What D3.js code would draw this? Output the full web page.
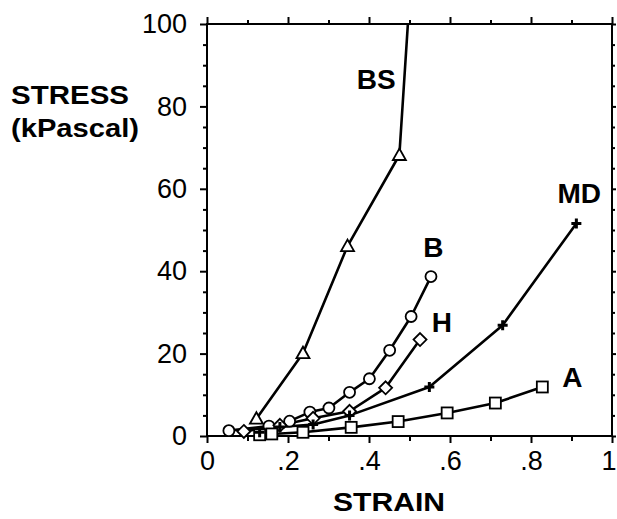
<!DOCTYPE html>
<html>
<head>
<meta charset="utf-8">
<script src="https://cdn.jsdelivr.net/npm/d3@7"></script>
<style>
  html, body { margin: 0; padding: 0; background: #fff; overflow: hidden; }
  svg { display: block; }
  text { font-family: "Liberation Sans", Arial, Helvetica, sans-serif; fill: #000; }
</style>
</head>
<body>
<svg id="chart" width="617" height="519"></svg>
<script>
// ---- Data (strain, stress in kPascal) ----
const seriesNames = ["BS", "B", "H", "MD", "A"];
const seriesBS = [[0.122, 4.2], [0.237, 20.1], [0.347, 46.1], [0.475, 68.2], [0.496, 100]];
const seriesB  = [[0.054, 1.3], [0.153, 2.4], [0.204, 3.6], [0.254, 5.8], [0.301, 6.8], [0.352, 10.6], [0.401, 13.9], [0.451, 20.8], [0.504, 29.0], [0.553, 38.7]];
const seriesH  = [[0.091, 1.1], [0.18, 2.6], [0.262, 4.3], [0.352, 6.0], [0.441, 11.7], [0.526, 23.4]];
const seriesMD = [[0.13, 0.9], [0.18, 2.2], [0.262, 2.8], [0.352, 5.0], [0.549, 11.9], [0.730, 26.9], [0.912, 51.6]];
const seriesA  = [[0.13, 0.3], [0.16, 0.5], [0.237, 0.9], [0.356, 2.1], [0.472, 3.5], [0.593, 5.6], [0.712, 8.0], [0.828, 11.9]];
const markerBS = [true, true, true, true, false];

const xMajorTicks = [0, 0.2, 0.4, 0.6, 0.8, 1];
const xTickLabels = ["0", ".2", ".4", ".6", ".8", "1"];
const xMinorTicks = [0.1, 0.3, 0.5, 0.7, 0.9];
const yMajorTicks = [0, 20, 40, 60, 80, 100];
const yTickLabels = ["0", "20", "40", "60", "80", "100"];
const yMinorTicks = [5, 10, 15, 25, 30, 35, 45, 50, 55, 65, 70, 75, 85, 90, 95];

const labelBS = { text: "BS", x: 0.418, y: 84.2 };
const labelB  = { text: "B",  x: 0.559, y: 43.5 };
const labelH  = { text: "H",  x: 0.580, y: 25.3 };
const labelMD = { text: "MD", x: 0.919, y: 56.5 };
const labelA  = { text: "A",  x: 0.902, y: 11.9 };

// ---- Layout ----
const svg = d3.select("#chart");
const x = d3.scaleLinear().domain([0, 1]).range([207, 612]);
const y = d3.scaleLinear().domain([0, 100]).range([436, 24]);

// Frame
svg.append("rect")
  .attr("x", x(0)).attr("y", y(100))
  .attr("width", x(1) - x(0)).attr("height", y(0) - y(100))
  .attr("fill", "none").attr("stroke", "#000").attr("stroke-width", 2);

function styleAxis(g) {
  g.select(".domain").remove();
  g.selectAll(".tick line").attr("stroke", "#000").attr("stroke-width", 2);
}

// Bottom axis
svg.append("g").attr("transform", `translate(0,${y(0)})`)
  .call(d3.axisBottom(x).tickValues(xMajorTicks).tickSize(7).tickPadding(8)
    .tickFormat((d, i) => xTickLabels[i]))
  .call(styleAxis)
  .call(g => g.selectAll("text").attr("font-size", 27).attr("font-family", "Liberation Sans, Arial, sans-serif").attr("fill", "#000"))
  .call(g => g.selectAll(".tick").filter(d => d === 1).select("text").attr("text-anchor", "end").attr("x", 4));
svg.append("g").attr("transform", `translate(0,${y(0)})`)
  .call(d3.axisBottom(x).tickValues(xMinorTicks).tickSize(5).tickFormat(""))
  .call(styleAxis);
// Top axis
svg.append("g").attr("transform", `translate(0,${y(100)})`)
  .call(d3.axisTop(x).tickValues(xMajorTicks).tickSize(7).tickFormat(""))
  .call(styleAxis);
svg.append("g").attr("transform", `translate(0,${y(100)})`)
  .call(d3.axisTop(x).tickValues(xMinorTicks).tickSize(4).tickFormat(""))
  .call(styleAxis);
// Left axis
svg.append("g").attr("transform", `translate(${x(0)},0)`)
  .call(d3.axisLeft(y).tickValues(yMajorTicks).tickSize(7).tickPadding(13)
    .tickFormat((d, i) => yTickLabels[i]))
  .call(styleAxis)
  .call(g => g.selectAll("text").attr("font-size", 27).attr("font-family", "Liberation Sans, Arial, sans-serif").attr("fill", "#000"));
svg.append("g").attr("transform", `translate(${x(0)},0)`)
  .call(d3.axisLeft(y).tickValues(yMinorTicks).tickSize(4).tickFormat(""))
  .call(styleAxis);
// Right axis
svg.append("g").attr("transform", `translate(${x(1)},0)`)
  .call(d3.axisRight(y).tickValues(yMajorTicks).tickSize(4).tickFormat(""))
  .call(styleAxis);
svg.append("g").attr("transform", `translate(${x(1)},0)`)
  .call(d3.axisRight(y).tickValues(yMinorTicks).tickSize(3).tickFormat(""))
  .call(styleAxis);

// Axis titles
svg.append("text").attr("x", 11).attr("y", 104)
  .attr("font-size", 26).attr("font-weight", "bold")
  .attr("textLength", 118).attr("lengthAdjust", "spacingAndGlyphs")
  .text("STRESS");
svg.append("text").attr("x", 11).attr("y", 137)
  .attr("font-size", 26).attr("font-weight", "bold")
  .attr("textLength", 128).attr("lengthAdjust", "spacingAndGlyphs")
  .text("(kPascal)");
svg.append("text").attr("x", 389).attr("y", 511)
  .attr("font-size", 26).attr("font-weight", "bold").attr("text-anchor", "middle")
  .attr("textLength", 112).attr("lengthAdjust", "spacingAndGlyphs")
  .text("STRAIN");

// Lines
const line = d3.line().x(d => x(d[0])).y(d => y(d[1]));
const allSeries = [seriesBS, seriesB, seriesH, seriesMD, seriesA];
svg.append("g").selectAll("path").data(allSeries).join("path")
  .attr("d", line).attr("fill", "none").attr("stroke", "#000")
  .attr("stroke-width", 2.6).attr("stroke-linejoin", "round");

// Markers
const mk = svg.append("g").attr("stroke", "#000").attr("fill", "#fff").attr("stroke-width", 1.8);
mk.selectAll(".tri").data(seriesBS.filter((d, i) => markerBS[i])).join("path")
  .attr("transform", d => `translate(${x(d[0])},${y(d[1])})`)
  .attr("d", "M0,-6.5L6.5,5L-6.5,5Z");
mk.selectAll(".circ").data(seriesB).join("circle")
  .attr("cx", d => x(d[0])).attr("cy", d => y(d[1])).attr("r", 5.5);
mk.selectAll(".dia").data(seriesH).join("path")
  .attr("transform", d => `translate(${x(d[0])},${y(d[1])})`)
  .attr("d", "M0,-6.5L6.5,0L0,6.5L-6.5,0Z");
mk.selectAll(".sq").data(seriesA).join("rect")
  .attr("x", d => x(d[0]) - 5.5).attr("y", d => y(d[1]) - 5.5)
  .attr("width", 11).attr("height", 11);
mk.selectAll(".plus").data(seriesMD).join("path")
  .attr("transform", d => `translate(${x(d[0])},${y(d[1])})`)
  .attr("d", "M-5,0H5M0,-5V5").attr("stroke-width", 3).attr("fill", "none");

// Series labels
const labels = [labelBS, labelB, labelH, labelMD, labelA];
svg.append("g").selectAll("text").data(labels).join("text")
  .attr("x", d => x(d.x)).attr("y", d => y(d.y))
  .attr("text-anchor", "middle").attr("font-size", 28).attr("font-weight", "bold")
  .text(d => d.text);
</script>
</body>
</html>
